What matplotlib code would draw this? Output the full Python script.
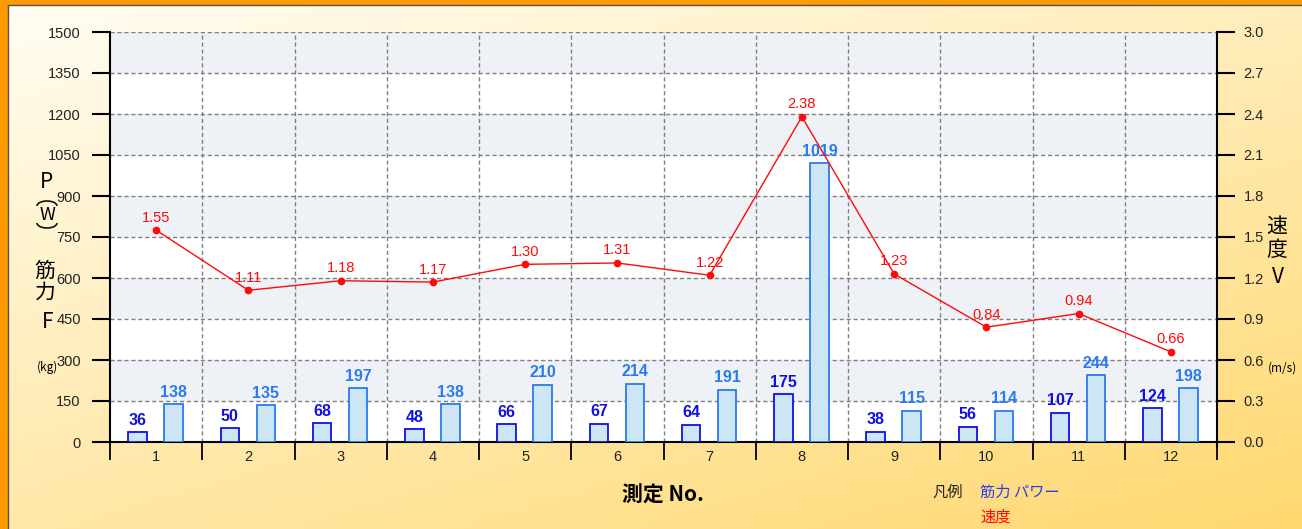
import numpy as np
import matplotlib
matplotlib.use("Agg")
import matplotlib.pyplot as plt
from matplotlib.patches import Rectangle, Arc

plt.rcParams['font.family'] = ['Noto Sans CJK JP', 'DejaVu Sans']

# measurement data
measure_no = ['1', '2', '3', '4', '5', '6', '7', '8', '9', '10', '11', '12']
force_kg = [36, 50, 68, 48, 66, 67, 64, 175, 38, 56, 107, 124]
power_w = [138, 135, 197, 138, 210, 214, 191, 1019, 115, 114, 244, 198]
speed_ms = [1.55, 1.11, 1.18, 1.17, 1.30, 1.31, 1.22, 2.38, 1.23, 0.84, 0.94, 0.66]
left_ticks = [0, 150, 300, 450, 600, 750, 900, 1050, 1200, 1350, 1500]
right_ticks = [0.0, 0.3, 0.6, 0.9, 1.2, 1.5, 1.8, 2.1, 2.4, 2.7, 3.0]

W, H = 1302, 529
fig = plt.figure(figsize=(W / 100, H / 100), dpi=100)
NUM = 'Liberation Sans'


def px(x, y):
    return x / W, 1 - y / H


# background gradient
bg = fig.add_axes([0, 0, 1, 1], zorder=-10)
gx, gy = np.meshgrid(np.linspace(0, 1, 300), np.linspace(0, 1, 150))
t = np.clip(0.55 * gx + 0.75 * gy, 0, 1.3) / 1.3
c0 = np.array([255, 253, 244]) / 255
c1 = np.array([255, 216, 112]) / 255
img = c0[None, None, :] * (1 - t[..., None]) + c1[None, None, :] * t[..., None]
bg.imshow(img, extent=[0, 1, 0, 1], aspect='auto', origin='upper')
bg.set_xlim(0, 1)
bg.set_ylim(0, 1)
bg.axis('off')
# orange frame on left and top
bg.add_patch(Rectangle((0, 0), 8 / W, 1, color='#FF9A00', lw=0))
bg.add_patch(Rectangle((0, 1 - 5 / H), 1, 5 / H, color='#FF9A00', lw=0))
bg.plot([8 / W, 8 / W], [0, 1 - 5 / H], color='#555555', lw=1)
bg.plot([8 / W, 1], [1 - 5 / H, 1 - 5 / H], color='#555555', lw=1)

x0, x1, yb, yt = 110, 1217, 442, 32
ax = fig.add_axes([x0 / W, 1 - yb / H, (x1 - x0) / W, (yb - yt) / H])
ax.set_facecolor('white')
ax.set_xlim(0, 12)
ax.set_ylim(0, 1500)

# alternating bands
for lo in range(150, 1500, 300):
    ax.axhspan(lo, lo + 150, color='#EEF1F6', lw=0, zorder=0)

# grid
for v in left_ticks[1:]:
    ax.axhline(v, color='#808080', lw=1, ls=(0, (3, 2)), zorder=1)
for b in range(1, 12):
    ax.axvline(b, color='#808080', lw=1, ls=(0, (3, 2)), zorder=1)

centers = np.arange(12) + 0.5
bw = 0.2
ax.bar(centers - 0.2, force_kg, width=bw, facecolor='#CDE6F5',
       edgecolor='#1010E8', lw=1.3, zorder=3)
ax.bar(centers + 0.19, power_w, width=bw, facecolor='#CDE6F5',
       edgecolor='#2A7BF0', lw=1.3, zorder=3)
for c, f, p in zip(centers, force_kg, power_w):
    ax.text(c - 0.2, f + 16, str(f), ha='center', va='bottom', color='#1010E0',
            fontsize=11.5, fontweight='bold', family=NUM, zorder=5)
    ax.text(c + 0.19, p + 16, str(p), ha='center', va='bottom', color='#2A7BF0',
            fontsize=11.5, fontweight='bold', family=NUM, zorder=5)

for s in ['top', 'right']:
    ax.spines[s].set_visible(False)
ax.spines['left'].set_linewidth(1.5)
ax.spines['bottom'].set_linewidth(1.5)
ax.set_yticks(left_ticks)
ax.set_yticklabels([str(v) for v in left_ticks], family=NUM)
ax.tick_params(axis='y', length=13, width=1.5, direction='out', pad=8,
               labelsize=10.5, labelcolor='#222222')
ax.set_xticks(range(13))
ax.set_xticklabels([''] * 13)
ax.set_xticks(centers, minor=True)
ax.set_xticklabels(measure_no, minor=True, family=NUM)
ax.tick_params(axis='x', which='major', length=13, width=1.3, direction='out')
ax.tick_params(axis='x', which='minor', length=0, pad=6, labelsize=10.5,
               labelcolor='#222222')

ax2 = ax.twinx()
ax2.set_ylim(0, 3.0)
ax2.set_yticks(right_ticks)
ax2.set_yticklabels([f'{v:.1f}' for v in right_ticks], family=NUM)
for s in ['top', 'left', 'bottom']:
    ax2.spines[s].set_visible(False)
ax2.spines['right'].set_linewidth(1.5)
ax2.spines['right'].set_bounds(-0.04, 3.0)
ax2.tick_params(axis='y', length=13, width=1.5, direction='out', pad=6,
                labelsize=10.5, labelcolor='#222222')
ax2.plot(centers, speed_ms, color='#FF0A0A', lw=1, marker='o', ms=4.5, zorder=6)
for c, s in zip(centers, speed_ms):
    ax2.text(c, s + 0.04, f'{s:.2f}', ha='center', va='bottom', color='#FF0A0A',
             fontsize=10.5, family=NUM, zorder=7)

# left axis title: P (W) in vertical writing, arcs standing in for the brackets
fig.text(*px(46, 182), 'P', ha='center', va='center', fontsize=15)
bg.add_patch(Arc(px(47, 206), 20 / W, 10 / H, theta1=0, theta2=180,
                 color='#111111', lw=1.2))
fig.text(*px(47, 215), 'W', ha='center', va='center', fontsize=13)
bg.add_patch(Arc(px(47, 223), 20 / W, 10 / H, theta1=180, theta2=360,
                 color='#111111', lw=1.2))
fig.text(*px(45, 271), '筋', ha='center', va='center', fontsize=15)
fig.text(*px(45, 293), '力', ha='center', va='center', fontsize=15)
fig.text(*px(48, 322), 'F', ha='center', va='center', fontsize=15)
fig.text(*px(47, 367), '(kg)', ha='center', va='center', fontsize=8.5)

# right axis title
fig.text(*px(1277, 227), '速', ha='center', va='center', fontsize=15)
fig.text(*px(1277, 250), '度', ha='center', va='center', fontsize=15)
fig.text(*px(1278, 277), 'V', ha='center', va='center', fontsize=15)
fig.text(*px(1268, 368), '(m/s)', ha='left', va='center', fontsize=8.5)

# x title and legend
fig.text(*px(663, 495), '測定 No.', ha='center', va='center', fontsize=15,
         fontweight='bold')
fig.text(*px(948, 492), '凡例', ha='center', va='center', fontsize=11,
         color='#222222')
fig.text(*px(980, 492), '筋力 パワー', ha='left', va='center', fontsize=11,
         color='#2A3CF0')
fig.text(*px(980, 517), '速度', ha='left', va='center', fontsize=11,
         color='#FF0A0A')

fig.savefig('out.png', dpi=100)
